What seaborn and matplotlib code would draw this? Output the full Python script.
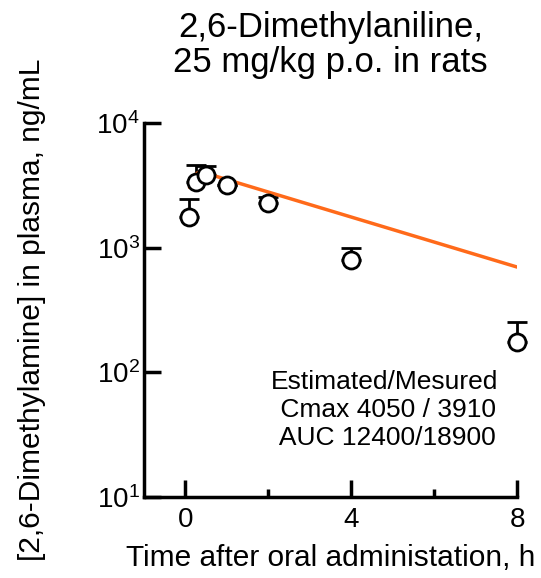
import numpy as np
import pandas as pd
import seaborn as sns
import matplotlib.pyplot as plt
from matplotlib.ticker import FixedLocator, LogLocator, NullLocator

# measured plasma concentrations (mean, upper error)
time_h = [0.083, 0.25, 0.5, 1, 2, 4, 8]
conc_mean = [1780, 3350, 3850, 3200, 2300, 800, 175]
conc_upper = [2450, 4600, 4550, 3200, 2550, 990, 255]

# model estimate (orange curve)
model_t = [0.1, 0.2, 0.3, 0.4, 8]
model_c = [3050, 3750, 4000, 4050, 700]

annot = "Estimated/Mesured\n Cmax 4050 / 3910\n AUC 12400/18900"

sns.set_style('ticks')
plt.rcParams['font.family'] = ['Liberation Sans', 'DejaVu Sans']
plt.rcParams['mathtext.fontset'] = 'custom'
plt.rcParams['mathtext.rm'] = 'Liberation Sans'
plt.rcParams['text.color'] = 'black'
plt.rcParams['axes.labelcolor'] = 'black'
plt.rcParams['xtick.color'] = 'black'
plt.rcParams['ytick.color'] = 'black'
plt.rcParams['axes.edgecolor'] = 'black'

fig = plt.figure(figsize=(5.41, 5.78), dpi=100)
ax = fig.add_axes([0.266, 0.140, 0.690, 0.647])

meas = pd.DataFrame({'t': time_h, 'c': conc_mean})
model = pd.DataFrame({'t': model_t, 'c': model_c})

err = np.array(conc_upper) - np.array(conc_mean)
eb = ax.errorbar(time_h, conc_mean, yerr=[np.zeros_like(err), err], fmt='none',
                 ecolor='black', elinewidth=2, capsize=7, capthick=2, zorder=2)
for art in eb.lines[1] + eb.lines[2]:
    art.set_clip_on(False)
sns.lineplot(data=model, x='t', y='c', ax=ax, color='#ff6a1a', linewidth=2.5, zorder=3)
sns.scatterplot(data=meas, x='t', y='c', ax=ax, marker='o', s=150,
                facecolor='white', edgecolor='black', linewidth=2, zorder=4,
                clip_on=False)

ax.set_yscale('log')
ax.set_ylim(10, 10000)
ax.set_xlim(-1, 8)
ax.yaxis.set_major_locator(LogLocator(base=10, numticks=10))
ax.yaxis.set_minor_locator(NullLocator())
ax.xaxis.set_major_locator(FixedLocator([0, 4, 8]))
ax.xaxis.set_minor_locator(FixedLocator([2, 6]))

sns.despine(ax=ax)
for s in ['left', 'bottom']:
    ax.spines[s].set_linewidth(2.5)
ax.tick_params(which='major', direction='in', length=12, width=2.5, labelsize=20, pad=7)
ax.tick_params(axis='y', which='major', pad=3)
ax.tick_params(which='minor', direction='in', length=6, width=2.5)

ax.set_xlabel('Time after oral administation, h', fontsize=21.5, labelpad=8)
ax.set_ylabel('[2,6-Dimethylamine] in plasma, ng/mL', fontsize=21.5, labelpad=36)
ax.set_title('2,6-Dimethylaniline,\n25 mg/kg p.o. in rats', fontsize=25, pad=37, linespacing=1.05)

ax.text(0.645, 0.34, annot, transform=ax.transAxes, ha='center', va='top',
        fontsize=19, linespacing=1.2)

fig.savefig('out.png', dpi=100)
